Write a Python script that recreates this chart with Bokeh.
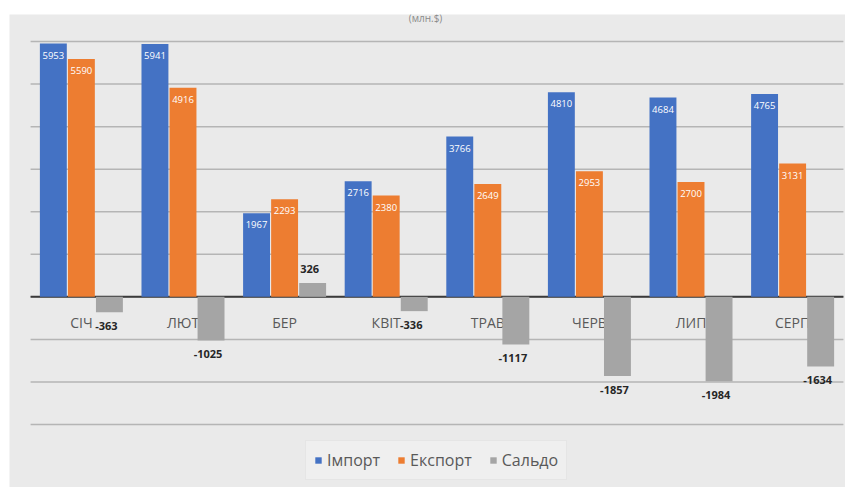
from bokeh.plotting import figure
from bokeh.models import ColumnDataSource, FactorRange, Legend, LegendItem, Grid, Label
from bokeh.transform import dodge
from bokeh.core.properties import value
from bokeh.embed import file_html
from bokeh.resources import INLINE

months = ["СІЧ", "ЛЮТ", "БЕР", "КВІТ", "ТРАВ", "ЧЕРВ", "ЛИП", "СЕРП"]
imports = [5953, 5941, 1967, 2716, 3766, 4810, 4684, 4765]
exports = [5590, 4916, 2293, 2380, 2649, 2953, 2700, 3131]
saldo = [-363, -1025, 326, -336, -1117, -1857, -1984, -1634]
y_ticks = [-3000, -2000, -1000, 0, 1000, 2000, 3000, 4000, 5000, 6000]
series_names = ["Імпорт", "Експорт", "Сальдо"]
title_text = "(млн.$)"

BLUE, ORANGE, GRAY = "#4472C4", "#ED7D31", "#A5A5A5"
BG = "#eaeaea"

src = ColumnDataSource(dict(
    x=months,
    imp=imports, exp=exports, sal=saldo,
    imp_s=[str(v) for v in imports],
    exp_s=[str(v) for v in exports],
    sal_s=[str(v) for v in saldo],
    sal_off=[14 if v < 0 else -14 for v in saldo],
))

S = 0.0935  # shift of the category block inside the grey chart area
N = len(months)
xr = FactorRange(*months, range_padding=0.0285)

p = figure(width=845, height=487, x_range=xr,
           y_range=(-4480, 6635), output_backend="svg", toolbar_location=None,
           x_axis_location=None, y_axis_location=None,
           min_border_left=9, min_border_right=0, min_border_top=14, min_border_bottom=0)
p.background_fill_color = BG
p.border_fill_color = "white"
p.outline_line_color = None
for g in p.select(type=Grid):
    g.visible = False

# horizontal gridlines over the category block
gsrc = ColumnDataSource(dict(y=y_ticks, x0=[S] * len(y_ticks), x1=[N + S] * len(y_ticks)))
p.segment(x0="x0", x1="x1", y0="y", y1="y", source=gsrc, line_color="#b5b5b5", line_width=1.5)
p.segment(x0=[S], x1=[N + S], y0=[0], y1=[0], line_color="#3a3a3a", line_width=2)

# category labels (under bars, like Excel)
p.text(x=dodge("x", S, range=xr), y=0, text="x", source=src, y_offset=26, text_align="center",
       text_baseline="middle", text_font=value("Open Sans"), text_font_size="14px", text_color="#595959")

W = 0.265
OFF = 0.276
r1 = p.vbar(x=dodge("x", S - OFF, range=xr), top="imp", bottom=0, width=W, source=src,
            fill_color=BLUE, line_color=None)
r2 = p.vbar(x=dodge("x", S, range=xr), top="exp", bottom=0, width=W, source=src,
            fill_color=ORANGE, line_color=None)
r3 = p.vbar(x=dodge("x", S + OFF, range=xr), top="sal", bottom=0, width=W, source=src,
            fill_color=GRAY, line_color=None)

p.text(x=dodge("x", S - OFF, range=xr), y="imp", text="imp_s", source=src, y_offset=8,
       text_align="center", text_baseline="top", text_font=value("Open Sans"),
       text_font_size="9.5px", text_color="white")
p.text(x=dodge("x", S, range=xr), y="exp", text="exp_s", source=src, y_offset=8,
       text_align="center", text_baseline="top", text_font=value("Open Sans"),
       text_font_size="9.5px", text_color="white")
p.text(x=dodge("x", S + OFF, range=xr), y="sal", text="sal_s", source=src, y_offset="sal_off",
       x_offset=-3, text_align="center", text_baseline="middle", text_font=value("Open Sans"),
       text_font_size="11px", text_font_style="bold", text_color="#262626")

p.add_layout(Label(x=416, y=470, x_units="screen", y_units="screen", text=title_text,
                   text_align="center", text_baseline="middle", text_font="Open Sans",
                   text_font_size="10px", text_color="#8a8a8a"))

legend = Legend(items=[LegendItem(label=series_names[0], renderers=[r1]),
                       LegendItem(label=series_names[1], renderers=[r2]),
                       LegendItem(label=series_names[2], renderers=[r3])],
                orientation="horizontal", location=(296, 7))
legend.label_text_font = "Open Sans"
legend.label_text_font_size = "16px"
legend.label_text_color = "#595959"
legend.glyph_width = 8
legend.glyph_height = 8
legend.label_standoff = 5
legend.spacing = 17
legend.padding = 8
legend.margin = 0
legend.background_fill_color = "#efefef"
legend.background_fill_alpha = 1
legend.border_line_color = "#dcdcdc"
p.add_layout(legend, "center")

open("out.html", "w").write(file_html(p, INLINE))
